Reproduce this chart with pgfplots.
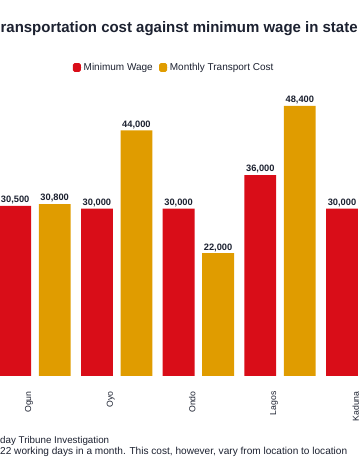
\documentclass[border=0pt]{standalone}
\usepackage{fontspec}
\setmainfont{Liberation Sans}
\usepackage{pgfplots}
\pgfplotsset{compat=1.18}
\definecolor{mwred}{HTML}{D90D18}
\definecolor{tcorange}{HTML}{E09C00}
\definecolor{txt}{HTML}{1C2130}

\begin{document}
\begin{tikzpicture}[x=1pt,y=1pt]
\useasboundingbox (0,0) rectangle (360,470);
\clip (0,0) rectangle (360,470);
\begin{axis}[
  at={(0pt,94pt)}, anchor=south west,
  scale only axis, width=360pt, height=279pt,
  xmin=-0.4278, xmax=3.9786, ymin=0, ymax=50000,
  clip=false,
  axis line style={draw=none},
  tick style={draw=none},
  ytick=\empty,
  xtick={-0.073,0.927,1.927,2.927,3.927},
  xticklabels={Ogun,Oyo,Ondo,Lagos,Kaduna},
  xticklabel style={rotate=90, anchor=east, inner sep=0pt, font=\fontsize{8.7}{10}\selectfont, text=txt},
  xticklabel shift=11pt,
  ybar,
  nodes near coords,
  /pgf/number format/assume math mode=true,
  /pgf/number format/1000 sep={,},
  every node near coord/.append style={font=\bfseries\fontsize{9.3}{11}\selectfont, text=txt, inner sep=0pt, yshift=1.5pt},
  legend columns=2,
  legend style={at={(0.2019,1.1057)}, anchor=west, draw=none, fill=none, inner sep=0pt, font=\fontsize{10}{12}\selectfont, text=txt, nodes={inner sep=1.3pt}, /tikz/every even column/.append style={column sep=5pt}},
  legend image code/.code={\fill[#1,draw=none,rounded corners=1.5pt] (0pt,-4.3pt) rectangle (8pt,4.3pt); \path (0pt,0pt) -- (9.5pt,0pt);},
]
\addplot[fill=mwred, draw=none, bar width=31.8pt, bar shift=-19.75pt] coordinates {(0,30500) (1,30000) (2,30000) (3,36000) (4,30000)};
\addplot[fill=tcorange, draw=none, bar width=31.8pt, bar shift=19.75pt] coordinates {(0,30800) (1,44000) (2,22000) (3,48400)};
\legend{Minimum Wage, Monthly Transport Cost}
\end{axis}
\node[anchor=base west, inner sep=0pt, text=txt, font=\bfseries\fontsize{15}{18}\selectfont] at (0.4,437.3) {\resizebox{357pt}{11pt}{ransportation cost against minimum wage in state}};
\node[anchor=base west, inner sep=0pt, text=txt, font=\fontsize{9.8}{12}\selectfont] at (0,26.3) {\resizebox{109pt}{!}{day Tribune Investigation}};
\node[anchor=base west, inner sep=0pt, text=txt, font=\fontsize{9.8}{12}\selectfont] at (0,15.7) {\resizebox{347pt}{!}{22 working days in a month. This cost, however, vary from location to location}};
\end{tikzpicture}
\end{document}
